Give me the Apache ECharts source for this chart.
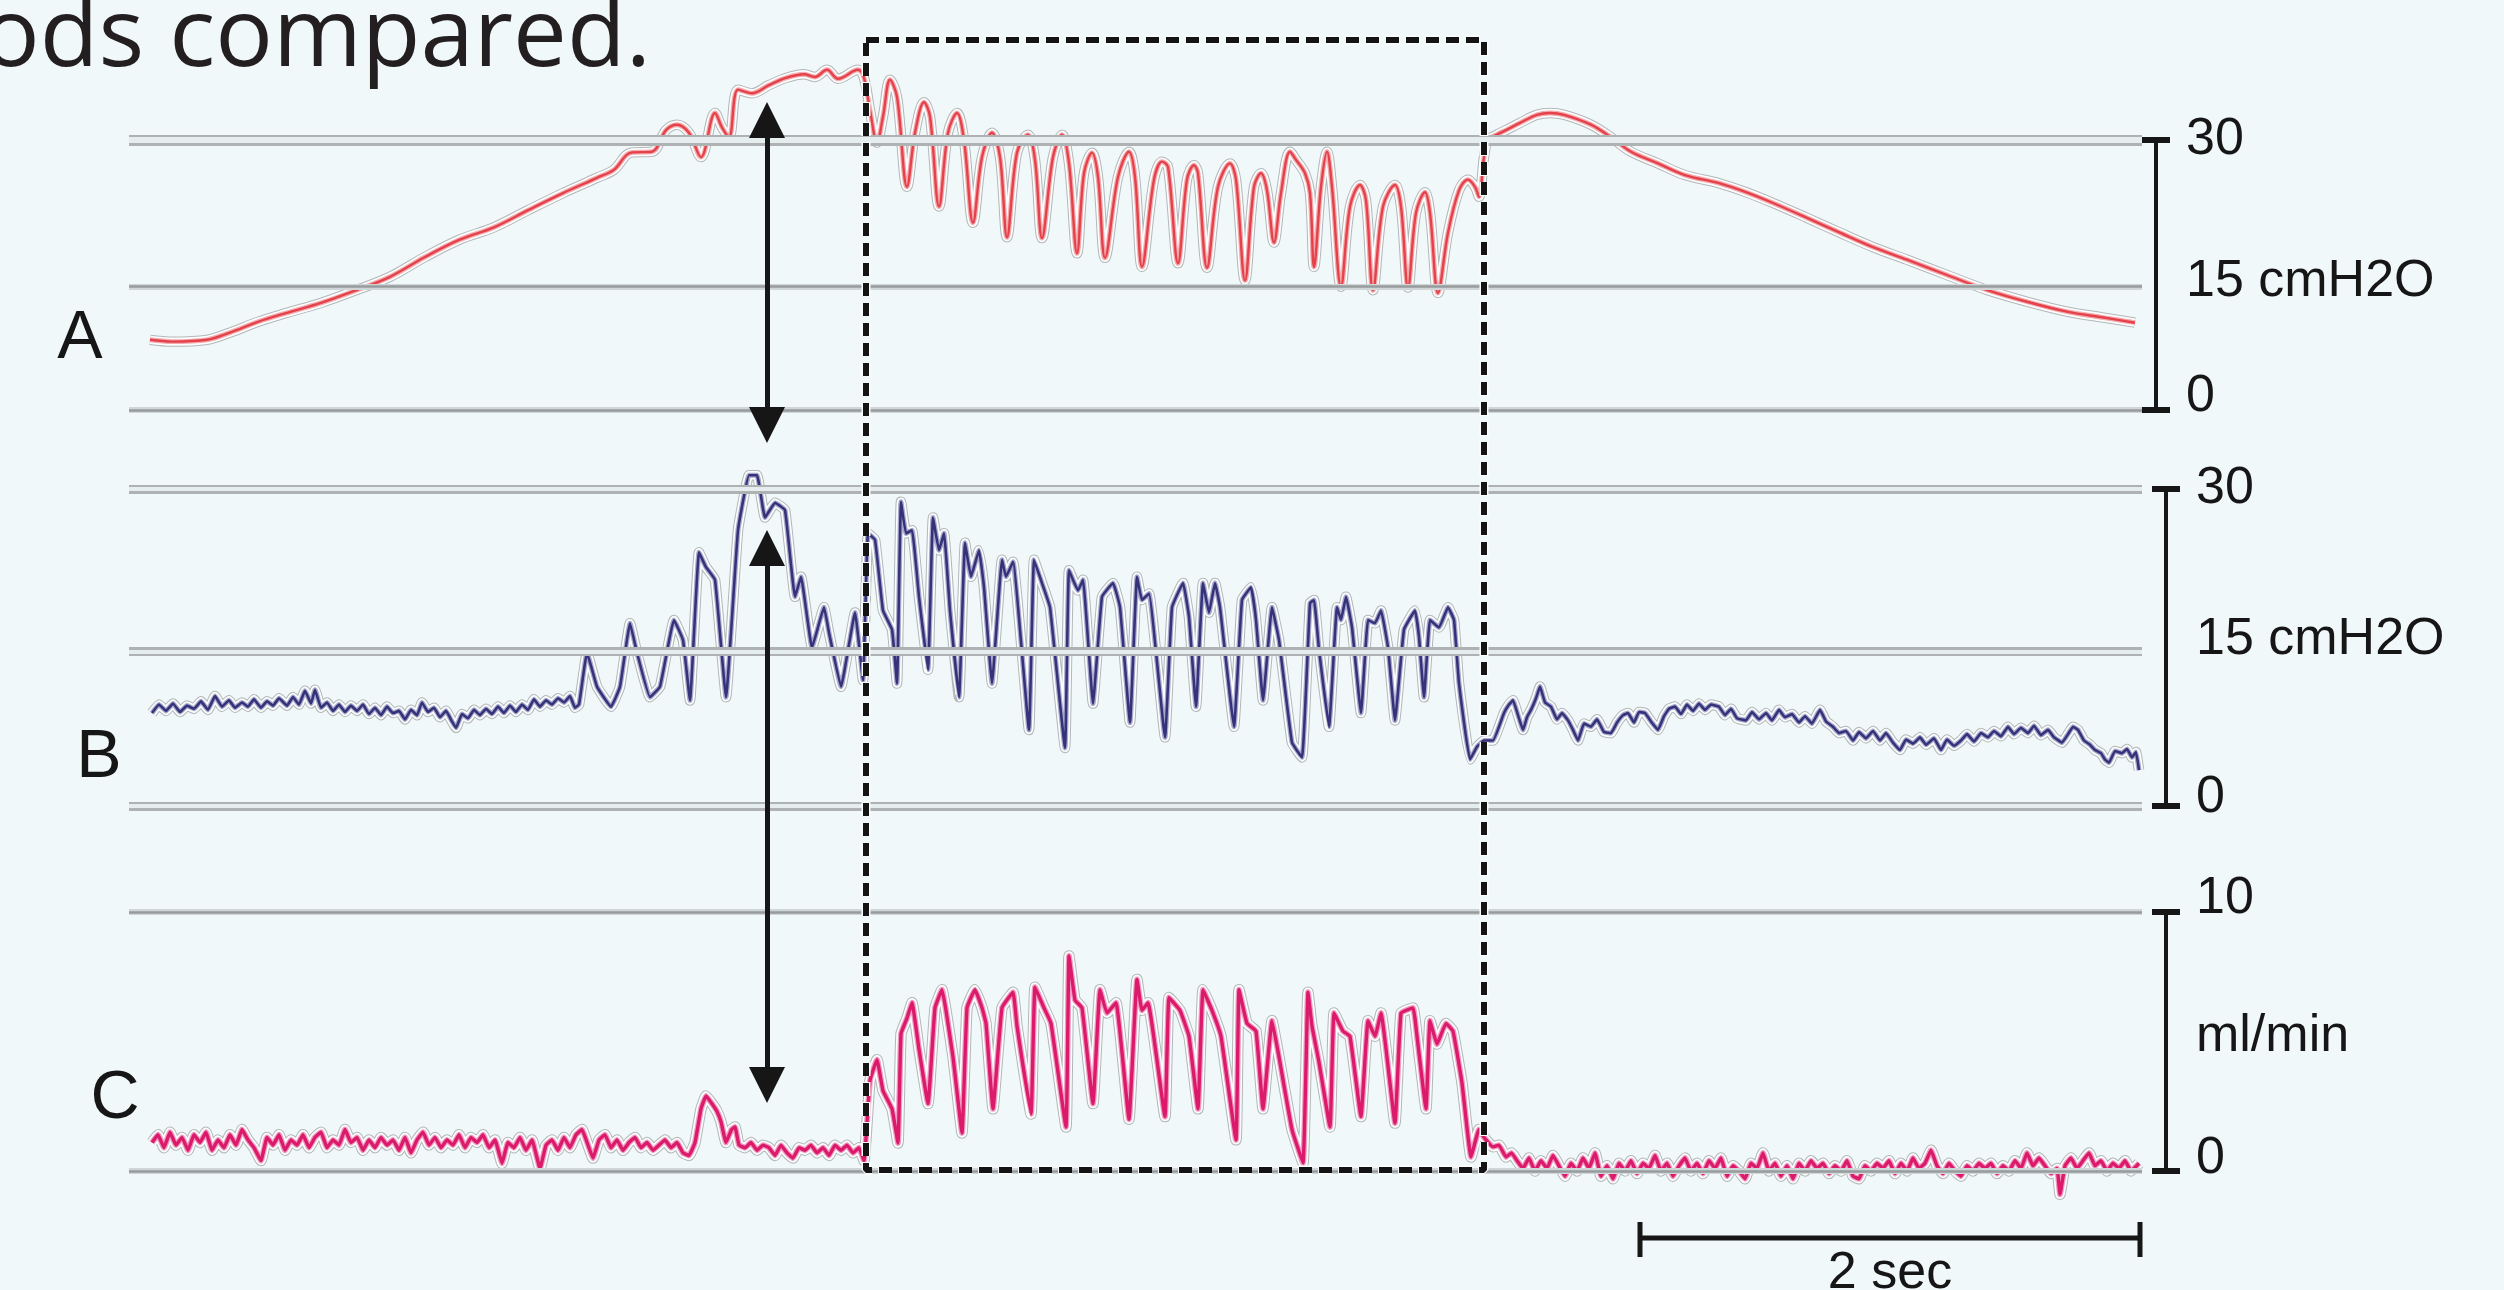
<!DOCTYPE html>
<html>
<head>
<meta charset="utf-8">
<script src="https://cdn.jsdelivr.net/npm/echarts@6/dist/echarts.min.js"></script>
<style>
html,body{margin:0;padding:0;background:#f1f8fa;}
#chart{width:2504px;height:1290px;}
</style>
</head>
<body>
<div id="chart"></div>
<script>
// ---------- DATA (time in ms, values in panel units) ----------
// A: pressure trace, cmH2O
const aTrace = [[84,7.8],[172,7.6],[312,7.8],[404,8.6],[516,9.8],[632,10.8],[768,11.9],[908,13.3],[1044,14.8],[1184,17.0],
[1320,18.9],[1460,20.3],[1596,22.2],[1736,24.1],[1872,25.8],[1940,26.7],[2008,28.6],[2092,28.7],[2148,31.1],[2192,31.7],
[2240,30.8],[2288,28.1],[2344,33.0],[2372,31.4],[2400,30.3],[2436,35.6],[2492,35.2],[2560,36.1],[2628,36.9],[2700,37.3],
[2744,37.0],[2792,37.8],[2836,36.8],[2916,37.8],[2940,36.9],[2964,33.3],[2992,29.7],[3016,32.6],[3044,36.7],[3072,34.8],
[3112,24.8],[3144,30.8],[3180,34.2],[3204,32.6],[3240,22.6],[3276,30.8],[3312,33.0],[3340,30.0],[3376,20.8],[3412,28.1],
[3452,30.8],[3484,28.1],[3512,19.2],[3552,28.6],[3596,30.6],[3624,27.8],[3652,19.1],[3696,28.1],[3732,30.6],[3760,27.4],
[3792,17.4],[3820,26.3],[3852,28.6],[3876,25.9],[3904,16.9],[3956,25.9],[4000,28.7],[4024,25.9],[4052,15.9],[4100,25.6],
[4132,27.6],[4156,27.0],[4196,16.3],[4232,25.6],[4260,27.2],[4276,26.3],[4312,15.8],[4356,24.8],[4404,27.4],[4428,25.6],
[4464,14.4],[4500,24.8],[4528,26.3],[4552,24.4],[4580,18.6],[4608,24.1],[4644,28.7],[4668,27.8],[4704,26.3],[4724,24.1],
[4740,15.9],[4768,24.8],[4792,28.7],[4812,24.8],[4848,13.7],[4884,22.6],[4924,25.0],[4948,23.3],[4976,13.3],[5016,22.6],
[5064,25.0],[5088,22.6],[5116,13.6],[5148,21.9],[5184,24.2],[5204,21.9],[5236,13.0],[5276,19.7],[5320,24.4],[5356,25.6],
[5384,24.8],[5400,23.7],[5420,28.1],[5436,30.0],[5472,30.6],[5508,31.1],[5564,31.9],[5632,32.8],[5684,33.0],[5740,32.8],
[5848,31.7],[5928,30.3],[6008,28.7],[6116,27.4],[6224,26.1],[6360,25.2],[6468,24.2],[6576,23.0],[6708,21.4],[6844,19.7],
[6976,18.1],[7112,16.7],[7272,15.0],[7436,13.3],[7596,12.0],[7756,10.9],[7892,10.3],[8024,9.7]];

// B: pressure trace, cmH2O
const bTrace = [[92,8.8],[120,9.6],[148,9.0],[176,9.7],[204,8.9],[232,9.5],[260,9.2],[288,9.9],[316,9.1],[344,10.4],
[372,9.4],[400,10.0],[424,9.3],[452,9.8],[476,9.4],[500,10.1],[528,9.3],[552,9.9],[576,9.5],[600,10.2],
[632,9.5],[656,10.3],[680,9.6],[704,10.9],[728,9.7],[744,11.0],[768,9.3],[792,9.8],[816,9.0],[840,9.6],
[864,8.9],[888,9.5],[912,9.0],[936,9.6],[960,8.7],[984,9.3],[1008,8.6],[1032,9.4],[1056,8.8],[1080,9.0],
[1104,8.2],[1128,9.1],[1152,8.6],[1172,9.8],[1196,8.9],[1220,9.3],[1244,8.4],[1268,9.0],[1292,8.0],[1308,7.4],
[1332,8.7],[1356,8.3],[1380,9.1],[1404,8.6],[1428,9.2],[1452,8.7],[1476,9.4],[1500,8.8],[1524,9.5],[1548,8.9],
[1572,9.6],[1596,9.1],[1620,10.1],[1644,9.4],[1668,10.0],[1692,9.6],[1716,10.2],[1740,9.8],[1764,10.4],[1784,9.3],
[1800,9.6],[1832,14.5],[1872,11.3],[1928,9.4],[1964,11.3],
[2004,17.3],[2032,14.5],[2084,10.3],[2124,11.3],[2180,17.6],[2216,15.7],[2244,10.0],[2280,24.0],[2308,22.6],[2344,21.4],
[2388,10.3],[2436,26.1],[2480,31.3],[2512,31.3],[2544,27.3],[2584,28.7],[2624,28.0],[2664,19.8],[2688,21.7],[2732,15.0],
[2780,18.8],[2800,16.4],[2848,11.3],[2904,18.3],[2936,11.9],[2956,25.8],[2984,25.2],[3016,18.5],[3052,16.7],[3072,11.6],
[3088,28.8],[3108,25.8],[3132,26.1],[3160,19.8],[3196,12.9],[3216,27.3],[3240,24.2],[3260,25.8],[3284,18.5],[3320,10.3],
[3344,24.9],[3368,21.7],[3400,24.2],[3420,20.7],[3452,11.6],[3492,23.3],[3508,21.7],[3536,23.1],[3600,7.2],[3620,23.3],
[3652,21.1],[3684,18.8],[3744,5.5],[3760,22.3],[3796,20.4],[3816,21.4],[3856,9.7],[3892,19.8],[3936,21.1],[3964,18.8],
[4004,7.9],[4032,21.7],[4052,19.5],[4080,20.1],[4144,6.5],[4172,18.8],[4216,21.1],[4240,17.9],[4268,9.4],[4296,21.1],
[4320,18.3],[4344,21.1],[4364,18.8],[4420,7.5],[4452,19.5],[4488,20.7],[4508,17.6],[4536,10.0],[4572,18.8],[4600,15.7],
[4652,6.0],[4692,4.6],[4724,19.2],[4740,19.5],[4760,14.8],[4800,7.5],[4832,18.8],[4848,17.6],[4868,19.8],[4892,16.9],
[4928,8.8],[4956,17.6],[4984,17.3],[5008,18.5],[5036,15.0],[5064,8.1],[5100,16.7],[5144,18.5],[5160,16.0],[5180,10.3],
[5204,17.6],[5240,16.9],[5276,18.8],[5300,17.6],[5320,11.6],[5364,4.4],[5392,5.6],[5420,6.2],[5456,6.2],[5500,8.8],
[5520,9.6],[5536,10.0],[5556,8.6],[5576,7.2],[5592,8.4],[5608,9.1],[5628,10.2],[5644,11.3],[5664,9.8],[5688,9.4],
[5712,8.2],[5732,8.8],[5756,8.1],[5776,7.2],[5796,6.2],[5820,7.8],[5848,7.5],[5872,8.2],[5900,7.0],[5928,6.9],
[5952,7.9],[5976,8.6],[5996,8.8],[6020,7.9],[6040,8.9],[6064,8.8],[6088,8.0],[6116,7.2],[6140,8.5],[6160,9.2],
[6184,9.4],[6208,8.7],[6232,9.6],[6256,9.0],[6280,9.7],[6304,9.1],[6328,9.6],[6360,9.4],[6384,8.6],[6408,9.2],
[6432,8.3],[6468,8.1],[6492,8.9],[6520,8.2],[6548,8.8],[6572,8.1],[6600,9.1],[6624,8.4],[6652,8.7],[6680,7.9],
[6704,8.5],[6732,7.8],[6764,9.1],[6788,8.0],[6816,7.5],[6840,6.9],[6868,7.1],[6896,6.2],[6920,7.0],[6948,6.4],
[6976,7.1],[7004,6.2],[7028,6.9],[7056,6.0],[7084,5.3],[7108,6.3],[7136,5.9],[7164,6.5],[7188,5.8],[7220,6.4],
[7248,5.3],[7272,6.3],[7300,5.7],[7328,6.2],[7352,6.8],[7380,6.1],[7408,6.9],[7436,6.5],[7460,7.1],[7488,6.6],
[7516,7.5],[7540,6.8],[7568,7.4],[7596,6.9],[7620,7.6],[7648,6.7],[7676,7.2],[7700,6.5],[7732,6.0],[7756,6.8],
[7776,7.5],[7796,7.2],[7820,6.2],[7844,5.8],[7864,5.3],[7888,5.0],[7904,4.4],[7920,4.1],[7944,5.2],[7972,5.0],
[7992,5.4],[8012,4.6],[8028,5.1],[8040,3.4]];

// C: flow trace, ml/min
const cTrace = [[92,1.1],[116,1.4],[140,0.9],[164,1.5],[188,1.0],[212,1.3],[236,0.8],[260,1.4],[284,1.1],[308,1.5],
[332,0.8],[356,1.2],[380,0.9],[404,1.4],[428,1.0],[452,1.6],[476,1.2],[500,0.9],[528,0.4],[552,1.3],
[576,1.0],[600,1.4],[624,0.8],[648,1.2],[672,1.0],[696,1.4],[720,0.9],[744,1.3],[768,1.5],[792,0.9],
[816,1.2],[840,1.0],[864,1.6],[888,1.1],[912,1.3],[936,0.8],[960,1.2],[984,0.9],[1008,1.3],[1032,1.0],
[1056,1.2],[1080,0.8],[1104,1.3],[1128,0.7],[1152,1.2],[1176,1.5],[1200,1.0],[1224,1.3],[1248,0.9],[1272,1.2],
[1296,1.0],[1320,1.4],[1344,0.9],[1368,1.3],[1392,1.1],[1416,1.4],[1440,0.9],[1464,1.2],[1492,0.3],[1516,1.1],
[1540,0.9],[1564,1.3],[1588,0.8],[1612,1.2],[1644,0.1],[1668,1.0],[1692,1.2],[1716,0.8],[1740,1.3],[1764,0.9],
[1788,1.4],[1812,1.6],[1836,1.0],[1856,0.5],[1880,1.2],[1904,1.4],[1928,0.9],[1952,1.2],[1976,0.8],[2000,1.1],
[2024,1.3],[2048,0.9],[2072,1.1],[2096,0.8],[2120,1.0],[2144,1.2],[2168,0.9],[2192,1.1],[2216,0.7],[2240,0.6],
[2264,1.1],[2288,2.4],[2308,2.9],[2332,2.6],[2352,2.3],[2368,1.9],[2388,1.1],[2410,1.6],[2424,1.7],[2440,1.0],
[2464,0.9],[2488,1.1],[2512,0.8],[2536,1.0],[2560,0.9],[2584,0.6],[2608,1.0],[2632,0.7],[2656,0.5],[2680,0.9],
[2704,0.8],[2728,1.0],[2752,0.7],[2776,0.9],[2800,0.6],[2824,1.0],[2848,0.8],[2872,1.0],[2896,0.7],[2920,0.9],
[2940,0.4],[2964,3.5],[2992,4.3],[3016,3.1],[3052,2.4],[3076,1.08],[3088,5.3],[3112,5.9],[3132,6.5],
[3160,4.7],[3196,2.6],[3224,6.3],[3252,7.0],[3268,6.2],[3296,4.4],[3332,1.47],[3352,6.3],[3384,7.0],[3412,6.3],
[3428,5.7],[3456,2.4],[3492,6.3],[3536,6.9],[3552,5.6],[3608,2.2],[3624,7.1],[3660,6.3],[3688,5.7],[3748,1.7],
[3760,8.3],[3784,6.6],[3812,6.3],[3856,2.6],[3884,7.0],[3912,6.1],[3948,6.5],[4000,2.0],[4032,7.4],[4052,6.2],
[4076,6.5],[4144,2.1],[4160,6.7],[4204,6.2],[4240,5.2],[4276,2.4],[4296,7.0],[4332,6.2],[4368,5.2],[4428,1.2],
[4440,7.0],[4472,5.7],[4508,5.4],[4536,2.4],[4572,5.8],[4600,4.4],[4652,1.6],[4696,0.31],[4716,6.9],[4732,5.6],
[4760,4.2],[4804,1.7],[4820,6.1],[4856,5.4],[4884,5.2],[4928,2.1],[4956,5.8],[4984,5.2],[5008,6.1],[5064,1.85],
[5088,6.1],[5136,6.3],[5152,5.2],[5188,2.4],[5204,5.8],[5232,4.9],[5268,5.7],[5296,5.4],[5332,3.4],[5368,0.54],
[5400,1.6],[5420,1.3],[5456,0.93],[5480,1.0],[5508,0.54],[5530,0.7],
[5552,0.4],[5576,0.1],[5600,0.5],[5624,0.0],[5648,0.4],[5672,0.1],[5696,0.6],[5720,0.2],[5744,-0.2],[5768,0.3],
[5792,0.0],[5816,0.5],[5840,0.1],[5864,0.7],[5888,-0.2],[5912,0.2],[5936,-0.3],[5960,0.3],[5984,0.0],[6008,0.4],
[6032,-0.1],[6056,0.3],[6080,0.1],[6104,0.6],[6128,0.0],[6152,0.3],[6176,-0.2],[6200,0.2],[6224,0.5],[6248,0.0],
[6272,0.3],[6296,-0.1],[6320,0.4],[6344,0.1],[6368,0.5],[6392,-0.2],[6416,0.2],[6440,0.0],[6464,-0.3],[6488,0.3],
[6512,0.1],[6536,0.7],[6560,0.0],[6584,0.3],[6608,-0.2],[6632,0.2],[6656,-0.3],[6680,0.3],[6704,0.0],[6728,0.4],
[6752,0.1],[6776,0.3],[6800,-0.1],[6824,0.2],[6848,0.0],[6872,0.4],[6896,-0.2],[6920,-0.3],[6944,0.2],[6968,0.0],
[6992,0.3],[7016,0.1],[7040,0.4],[7064,-0.1],[7088,0.3],[7112,0.0],[7136,0.5],[7160,0.1],[7184,0.3],[7208,0.8],
[7232,0.2],[7256,-0.1],[7280,0.3],[7304,0.0],[7328,-0.2],[7352,0.2],[7376,0.0],[7400,0.3],[7424,0.1],[7448,0.3],
[7472,-0.1],[7496,0.2],[7520,0.0],[7544,0.4],[7568,0.1],[7592,0.7],[7616,0.2],[7640,0.5],[7664,0.2],[7688,-0.1],
[7712,0.1],[7724,-0.9],[7744,0.2],[7768,0.5],[7792,0.1],[7816,0.4],[7840,0.7],[7864,0.2],[7888,0.4],[7912,0.0],
[7936,0.3],[7960,0.1],[7984,0.4],[8008,0.0],[8040,0.3]];

// Reference grid lines (values on each panel's scale)
const aGridLines = [0, 13.7, 30];
const bGridLines = [0, 14.6, 30];
const cGridLines = [0, 10];

// Scale ticks / labels
const aScale = {max: 30, mid: 15, labels: {30: '30', 15: '15 cmH2O', 0: '0'}};
const bScale = {max: 30, mid: 15, labels: {30: '30', 15: '15 cmH2O', 0: '0'}};
const cScale = {max: 10, mid: 5, labels: {10: '10', 5: 'ml/min', 0: '0'}};

// Time annotations (ms)
const timeMax = 8052;
const boxStartTime = 2948, boxEndTime = 5420;
const arrowTime = 2552;
const timeBarStart = 6044, timeBarLength = 2000, timeBarLabel = '2 sec';

const panelLetters = ['A', 'B', 'C'];
const titleText = 'ods compared.';

// ---------- LAYOUT ----------
const GL = 129, GR = 362;
const grids = [
  {left: GL, right: GR, top: 140, height: 270},
  {left: GL, right: GR, top: 489, height: 317},
  {left: GL, right: GR, top: 912, height: 259},
  {left: GL, right: GR, top: 40, height: 1250}   // overlay (fraction of height, 0 = top)
];

const INK = '#161616';
const FONT = '"Liberation Sans", Arial, sans-serif';

function scaleAxes(gi, offset, sc, shifts) {
  const line = {show: true, onZero: false, lineStyle: {color: INK, width: 4}};
  const rich = {};
  Object.keys(shifts).forEach(k => { rich['s' + k] = {padding: shifts[k]}; });
  return [
    {type: 'value', gridIndex: gi, position: 'right', offset, min: 0, max: sc.max, interval: sc.max,
     axisLine: line, axisTick: {show: true, length: 14, lineStyle: {color: INK, width: 6}},
     axisLabel: {show: false}, splitLine: {show: false}},
    {type: 'value', gridIndex: gi, position: 'right', offset, min: 0, max: sc.max, interval: sc.max,
     axisLine: line, axisTick: {show: true, inside: true, length: 14, lineStyle: {color: INK, width: 6}},
     axisLabel: {show: false}, splitLine: {show: false}},
    {type: 'value', gridIndex: gi, position: 'right', offset, min: 0, max: sc.max, interval: sc.mid,
     axisLine: {show: false}, axisTick: {show: false}, splitLine: {show: false},
     axisLabel: {show: true, margin: 30, color: INK, fontSize: 52, fontFamily: FONT,
       formatter: v => '{s' + v + '|' + sc.labels[v] + '}', rich}}
  ];
}

const yAxes = [].concat(
  scaleAxes(0, 14, aScale, {30: [0,0,0,0], 15: [14,0,0,0], 0: [0,0,26,0]}),
  scaleAxes(1, 24, bScale, {30: [0,0,0,0], 15: [0,0,16,0], 0: [0,0,16,0]}),
  scaleAxes(2, 24, cScale, {10: [0,0,26,0], 5: [0,0,9,0], 0: [0,0,24,0]}),
  [{type: 'value', gridIndex: 3, min: 0, max: 1, inverse: true, show: false}]
);
const xAxes = grids.map((g, i) => ({type: 'value', gridIndex: i, min: 0, max: timeMax, show: false}));

const series = [];

function gridLineSeries(gi, yi, values, doubleSet) {
  const mk = (v, w, c) => ({yAxis: v, lineStyle: {width: w, color: c, type: 'solid'}});
  const outer = values.map(v => doubleSet.includes(v) ? mk(v, doubleSet.w, '#aeb2b3') : mk(v, 6, '#d0d5d7'));
  const inner = values.map(v => doubleSet.includes(v) ? mk(v, doubleSet.w - 5, '#e6edef') : mk(v, 2.5, '#979b9d'));
  [outer, inner].forEach((d, k) => series.push({
    type: 'line', xAxisIndex: gi, yAxisIndex: yi, data: [], z: 1 + k * 0.1, silent: true,
    markLine: {silent: true, symbol: 'none', animation: false, label: {show: false},
      lineStyle: {type: 'solid'}, data: d}
  }));
}
const aDouble = [30]; aDouble.w = 11;
const bDouble = [0, 14.6, 30]; bDouble.w = 9;
const cDouble = []; cDouble.w = 6;
gridLineSeries(0, 0, aGridLines, aDouble);
gridLineSeries(1, 3, bGridLines, bDouble);
gridLineSeries(2, 6, cGridLines, cDouble);

function addTrace(gi, yi, data, color, w, glow, smooth) {
  const base = {type: 'line', xAxisIndex: gi, yAxisIndex: yi, data, symbol: 'none', showSymbol: false,
    clip: false, silent: true, animation: false, smooth};
  series.push(Object.assign({}, base, {z: 2, lineStyle: {color: '#b2b7b9', width: w + 8, join: 'round'}}));
  series.push(Object.assign({}, base, {z: 3, lineStyle: {color: '#fbfdfd', width: w + 6, join: 'round'}}));
  series.push(Object.assign({}, base, {z: 3.5, lineStyle: {color: glow, width: w + 2.5, join: 'round'}}));
  series.push(Object.assign({}, base, {z: 4, lineStyle: {color, width: w, join: 'round'}}));
}
addTrace(0, 0, aTrace, '#e4414a', 2.4, '#f3a9ad', 0.35);
addTrace(1, 3, bTrace, '#34337a', 2.6, '#a9a8cc', 0.1);
addTrace(2, 6, cTrace, '#dc1a6c', 3.4, '#f09bbf', 0.1);

// overlay: dashed box, arrows, time bar
const boxTop = 0, boxBottom = 0.904;
const barY = 0.9584, tickTop = 0.9456, tickBot = 0.9736;
const timeBarEnd = timeBarStart + timeBarLength;
const overlayBase = {type: 'line', xAxisIndex: 3, yAxisIndex: 9, symbol: 'none', showSymbol: false,
  clip: false, silent: true, animation: false};
const boxPath = [[boxStartTime, boxTop], [boxEndTime, boxTop], [boxEndTime, boxBottom], [boxStartTime, boxBottom], [boxStartTime, boxTop]];
// dashed box (halo + dashes)
series.push(Object.assign({}, overlayBase, {z: 9, data: boxPath,
  lineStyle: {color: '#fbfdfd', width: 9, type: [14, 6]}}));
series.push(Object.assign({}, overlayBase, {z: 10, data: boxPath,
  lineStyle: {color: '#141414', width: 6, type: [13, 7], cap: 'butt'}}));
// time bar, arrows, label
series.push(Object.assign({}, overlayBase, {z: 10,
  data: [[timeBarStart, tickTop], [timeBarStart, tickBot], [timeBarStart, barY], [timeBarEnd, barY],
         [timeBarEnd, tickTop], [timeBarEnd, tickBot]],
  lineStyle: {color: INK, width: 5},
  markLine: {silent: true, animation: false, symbol: ['triangle', 'triangle'], symbolSize: 36,
    label: {show: false}, lineStyle: {color: INK, width: 5, type: 'solid'},
    data: [[{coord: [arrowTime, 0.0640]}, {coord: [arrowTime, 0.3080]}],
           [{coord: [arrowTime, 0.4064]}, {coord: [arrowTime, 0.8360]}]]},
  markPoint: {silent: true, animation: false, symbol: 'circle', symbolSize: 1,
    itemStyle: {color: 'rgba(0,0,0,0)'},
    label: {show: true, position: 'inside', formatter: timeBarLabel, color: INK, fontSize: 52, fontFamily: FONT},
    data: [{coord: [timeBarStart + timeBarLength / 2, 0.9872]}]}
}));

const chart = echarts.init(document.getElementById('chart'), null, {renderer: 'canvas'});
chart.setOption({
  backgroundColor: '#f1f8fa',
  animation: false,
  grid: grids.map(g => Object.assign({outerBoundsMode: 'none', containLabel: false}, g)),
  xAxis: xAxes,
  yAxis: yAxes,
  series,
  graphic: [
    {type: 'text', x: -18, y: 39, silent: true,
     style: {text: titleText, font: '96px "Open Sans", sans-serif', fill: '#231f20', verticalAlign: 'middle'}},
    {type: 'text', x: 80, y: 339, silent: true,
     style: {text: panelLetters[0], font: '68px ' + FONT, fill: INK, align: 'center', verticalAlign: 'middle'}},
    {type: 'text', x: 99, y: 758, silent: true,
     style: {text: panelLetters[1], font: '68px ' + FONT, fill: INK, align: 'center', verticalAlign: 'middle'}},
    {type: 'text', x: 115, y: 1099, silent: true,
     style: {text: panelLetters[2], font: '68px ' + FONT, fill: INK, align: 'center', verticalAlign: 'middle'}}
  ]
});
</script>
</body>
</html>
